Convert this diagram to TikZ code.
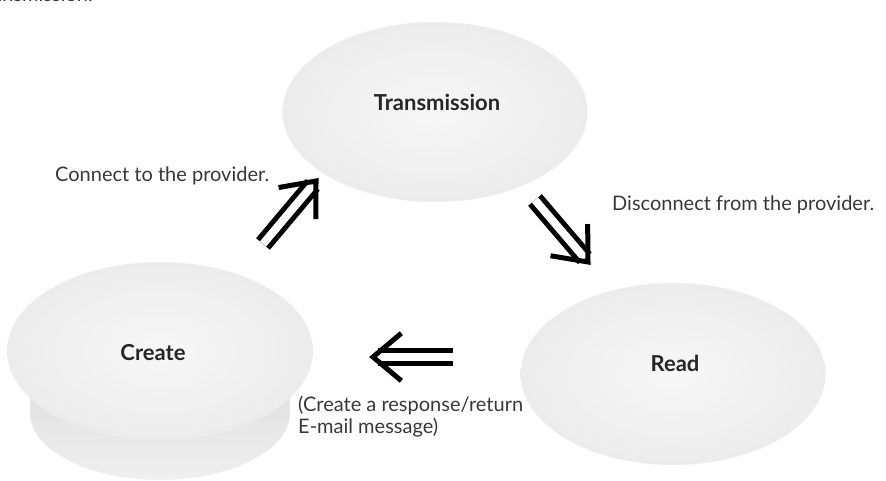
\documentclass[tikz,border=0pt]{standalone}
\usepackage{fontspec}
\setmainfont{Lato}
\usetikzlibrary{shapes.geometric,calc}

\pgfdeclareradialshading{glow}{\pgfpoint{0bp}{0bp}}{color(0bp)=(gray!6); color(25bp)=(gray!15); color(50bp)=(gray!30)}

\begin{document}
\begin{tikzpicture}[x=1pt, y=-1pt,
  stage/.style={ellipse, shading=glow, inner sep=0pt},
  title/.style={font=\bfseries\fontsize{22}{26}\selectfont, text=black!85, inner sep=0pt},
  note/.style={font=\fontsize{20}{22}\selectfont, text=black!78, align=left, inner sep=0pt},
  shaft/.style={double, double distance=8pt, line width=5pt, shorten >=5pt},
  barb/.style={line width=5pt, line join=miter}]

\useasboundingbox (0,0) rectangle (886,480);

% clipped line from the page above
\node[note, anchor=base east] (prevline) at (93,1.5) {transmission.};

% base of the Create puck
\shade[top color=gray!28, bottom color=gray!12] (30,352) -- (30,413)
  arc[start angle=180, end angle=0, x radius=130, y radius=67] -- (290,352) -- cycle;

% the three stages
\node[stage, minimum width=305pt, minimum height=180pt] (trans) at (435,112) {};
\node[stage, minimum width=305pt, minimum height=182pt] (read) at (673,374) {};
\node[stage, minimum width=306pt, minimum height=178pt] (create) at (160,351) {};

\node[title, anchor=base] (transname) at (437,110) {Transmission};
\node[title, anchor=base] (readname) at (675,371) {Read};
\node[title, anchor=base] (createname) at (153,360) {Create};

% arrows
\coordinate (upT) at (263,244);
\coordinate (upH) at (316,181);
\coordinate (dnT) at (535,200);
\coordinate (dnH) at (588,262);
\coordinate (lfT) at (453,357);
\coordinate (lfH) at (373,357);

\draw[shaft] (upT) -- (upH);
\draw[barb] ($(upH)!38pt!40:(upT)$) -- (upH) -- ($(upH)!38pt!-40:(upT)$);
\draw[shaft] (dnT) -- (dnH);
\draw[barb] ($(dnH)!38pt!40:(dnT)$) -- (dnH) -- ($(dnH)!38pt!-40:(dnT)$);
\draw[shaft] (lfT) -- (lfH);
\draw[barb] ($(lfH)!37pt!40:(lfT)$) -- (lfH) -- ($(lfH)!37pt!-40:(lfT)$);

% labels
\node[note, anchor=base west] (connect) at (55,181) {Connect to the provider.};
\node[note, anchor=base west] (disconnect) at (612,210) {Disconnect from the provider.};
\node[note, anchor=base west] (reply) at (298,433) {(Create a response/return\\E-mail message)};

\end{tikzpicture}
\end{document}
